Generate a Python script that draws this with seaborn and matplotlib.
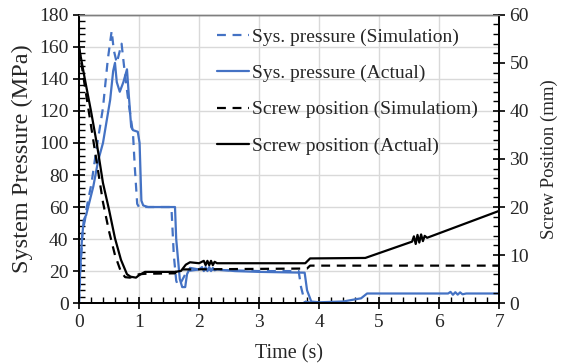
import numpy as np
import pandas as pd
import matplotlib
matplotlib.use("Agg")
import matplotlib.pyplot as plt
from matplotlib.ticker import MultipleLocator
import seaborn as sns

# Measured / simulated injection cycle traces
t_p_sim = [0.0, 0.03, 0.06, 0.10, 0.13, 0.21, 0.29, 0.35, 0.40, 0.48, 0.545, 0.58, 0.63,
           0.71, 0.76, 0.82, 0.90, 0.93, 0.97, 1.00, 1.54, 1.58, 1.62, 1.65, 1.70, 1.80,
           2.00, 3.00, 3.66, 3.70, 3.76, 3.90, 7.00]
p_sim = [0, 25, 45, 52, 60, 75, 96, 110, 122, 152, 170, 158, 150,
         162, 145, 127, 106, 85, 62, 60, 60, 30, 14, 11, 13, 20,
         21, 20, 20, 10, 1, 0, 0]

t_p_act = [0.0, 0.02, 0.05, 0.08, 0.12, 0.18, 0.24, 0.32, 0.40, 0.52, 0.57, 0.60, 0.63,
           0.68, 0.74, 0.80, 0.83, 0.87, 0.90, 0.98, 1.01, 1.04, 1.07, 1.15, 1.60, 1.62,
           1.68, 1.72, 1.77, 1.80, 1.85, 2.00, 2.05, 2.08, 2.11, 2.14, 2.17, 2.20, 2.23,
           2.26, 2.30, 2.60, 3.00, 3.76, 3.80, 3.87, 4.00, 4.40, 4.70, 4.80,
           6.15, 6.19, 6.23, 6.27, 6.31, 6.35, 6.39, 6.45, 7.00]
p_act = [0, 20, 40, 52, 55, 64, 73, 89, 100, 127, 145, 150, 138,
         132, 138, 146, 130, 110, 108, 107, 100, 64, 61, 60, 60, 40,
         15, 10, 10, 18, 22, 21, 22.5, 20, 22.5, 20, 22.5, 20, 22,
         20.5, 21, 20, 19.5, 19, 8, 1, 0.5, 1, 3, 6,
         6, 7, 5.2, 6.8, 5.3, 6.7, 5.5, 6, 6]

t_s_sim = [0.0, 0.10, 0.20, 0.30, 0.40, 0.50, 0.60, 0.70, 0.77, 0.85, 1.00, 1.10, 1.60,
           1.65, 3.80, 3.85, 7.00]
s_sim = [53.3, 45.0, 37.0, 29.0, 21.0, 15.0, 10.0, 6.5, 5.4, 5.3, 6.0, 6.1, 6.2,
         7.0, 7.2, 7.8, 7.8]

t_s_act = [0.0, 0.10, 0.20, 0.30, 0.40, 0.50, 0.60, 0.70, 0.80, 0.86, 0.95, 1.00, 1.10,
           1.60, 1.70, 1.78, 1.85, 2.00, 2.08, 2.11, 2.14, 2.17, 2.20, 2.23, 2.26, 2.30,
           3.77, 3.85, 4.77, 5.55, 5.58, 5.61, 5.64, 5.67, 5.70, 5.73, 5.76, 5.80, 7.00]
s_act = [53.3, 46.5, 40.0, 33.0, 25.0, 19.5, 13.5, 9.0, 6.0, 5.5, 5.3, 5.8, 6.5,
         6.5, 6.7, 8.0, 8.5, 8.3, 8.8, 7.9, 8.8, 7.9, 8.8, 7.9, 8.6, 8.3,
         8.3, 9.3, 9.4, 12.8, 13.9, 12.3, 14.2, 12.6, 14.3, 12.9, 14.0, 13.6, 19.2]

series_labels = ["Sys. pressure (Simulation)", "Sys. pressure (Actual)",
                 "Screw position (Simulatiom)", "Screw position (Actual)"]

blue = "#4472C4"

sns.set_theme(style="white")
plt.rcParams["font.family"] = ["Liberation Serif", "DejaVu Serif"]
plt.rcParams["font.size"] = 14

fig = plt.figure(figsize=(5.64, 3.63), dpi=100)
ax = fig.add_axes([0.140, 0.165, 0.745, 0.794])
ax2 = ax.twinx()

ax.grid(True, which="major", color="#d9d9d9", linewidth=1.0)
ax.set_axisbelow(True)

sns.lineplot(x=t_p_sim, y=p_sim, ax=ax, color=blue, linewidth=1.6, estimator=None,
             linestyle=(0, (4, 3)), label=series_labels[0])
sns.lineplot(x=t_p_act, y=p_act, ax=ax, color=blue, linewidth=1.6, estimator=None,
             label=series_labels[1])
sns.lineplot(x=t_s_sim, y=s_sim, ax=ax2, color="black", linewidth=1.6, estimator=None,
             linestyle=(0, (4, 3)), label=series_labels[2])
sns.lineplot(x=t_s_act, y=s_act, ax=ax2, color="black", linewidth=1.6, estimator=None,
             label=series_labels[3])

ax.set_xlim(0, 7)
ax.set_ylim(0, 180)
ax2.set_ylim(0, 60)
ax.xaxis.set_major_locator(MultipleLocator(1))
ax.xaxis.set_minor_locator(MultipleLocator(0.2))
ax.yaxis.set_major_locator(MultipleLocator(20))
ax.yaxis.set_minor_locator(MultipleLocator(4))
ax2.yaxis.set_major_locator(MultipleLocator(10))
ax2.yaxis.set_minor_locator(MultipleLocator(2))

for a in (ax, ax2):
    a.tick_params(which="major", direction="inout", length=9, width=1.2, color="black",
                  labelsize=14, pad=3)
    a.tick_params(which="minor", direction="in", length=4.5, width=1.0, color="black")
    for s in a.spines.values():
        s.set_color("black")
        s.set_linewidth(1.3)
    a.spines["top"].set_color("#7f7f7f")
    a.spines["top"].set_linewidth(1.0)
ax.tick_params(axis="y", which="both", right=False)
ax2.tick_params(axis="y", which="both", left=False)
ax.tick_params(axis="x", which="both", bottom=True, top=False)
ax.tick_params(axis="y", which="both", left=True)
ax2.tick_params(axis="y", which="both", right=True)

ax.set_xlabel("Time (s)", fontsize=14.5, labelpad=10)
ax.set_ylabel("System Pressure (MPa)", fontsize=17.5, labelpad=4)
ax2.set_ylabel("Screw Position (mm)", fontsize=13.5, labelpad=8)

h1, l1 = ax.get_legend_handles_labels()
h2, l2 = ax2.get_legend_handles_labels()
ax.get_legend().remove()
ax2.get_legend().remove()
ax2.legend(h1 + h2, l1 + l2, loc="upper left", bbox_to_anchor=(0.295, 1.0),
           frameon=False, fontsize=14, handlelength=1.65, handletextpad=0.15,
           labelspacing=0.95, borderpad=0.2)

fig.savefig("out.png", dpi=100, facecolor="white")
